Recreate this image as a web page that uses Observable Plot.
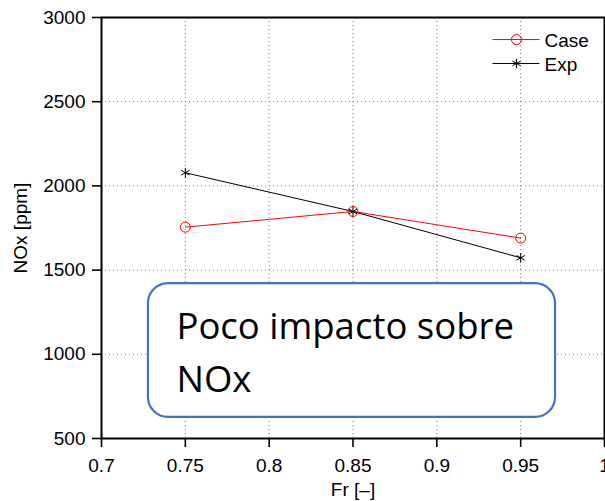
<!DOCTYPE html>
<html><head><meta charset="utf-8">
<script src="https://cdn.jsdelivr.net/npm/d3@7"></script>
<script src="https://cdn.jsdelivr.net/npm/@observablehq/plot@0.6"></script>
<style>body{margin:0;background:#fff}</style>
</head><body><div id="chart"></div>
<script>
const fr = [0.75, 0.85, 0.95];
const caseNOx = [1755, 1848, 1690];
const expNOx = [2078, 1848, 1573];
const seriesNames = ["Case", "Exp"];
const xTicks = [0.7, 0.75, 0.8, 0.85, 0.9, 0.95, 1.0];
const yTicks = [500, 1000, 1500, 2000, 2500, 3000];
const noteLines = ["Poco impacto sobre", "NOx"];

const caseData = fr.map((x, i) => ({x, y: caseNOx[i]}));
const expData = fr.map((x, i) => ({x, y: expNOx[i]}));

// annotation box & legend placement (data space)
const box = [{x1: 0.728, x2: 0.9708, y1: 625, y2: 1420}];
const noteY = [1163, 843];
const note = noteLines.map((t, i) => ({x: 0.7447, y: noteY[i], t}));
const legendY = [2869, 2727];
const legend = seriesNames.map((s, i) => ({
  s, y: legendY[i], x1: 0.9332, x2: 0.9612, xm: 0.9475, xt: 0.9642
}));
const colors = {Case: "#ff0000", Exp: "#000000"};

const fmt = d => String(+d.toFixed(2));

const chart = Plot.plot({
  width: 605, height: 501,
  marginLeft: 101, marginRight: 1, marginTop: 17, marginBottom: 63,
  style: {fontFamily: "'Liberation Sans', Arial, sans-serif", fontSize: "19px", background: "white", overflow: "visible"},
  x: {domain: [0.7, 1.0]},
  y: {domain: [500, 3000]},
  marks: [
    Plot.gridX(xTicks.slice(1, -1), {stroke: "#777", strokeOpacity: 1, strokeDasharray: "1,3", strokeWidth: 1}),
    Plot.gridY(yTicks.slice(1, -1), {stroke: "#777", strokeOpacity: 1, strokeDasharray: "1,3", strokeWidth: 1}),
    Plot.axisX({ticks: xTicks, tickFormat: fmt, tickSize: 9, tickPadding: 11, strokeWidth: 1.6,
      label: "Fr [–]", labelAnchor: "center", labelArrow: "none", labelOffset: 57, fill: "black", fontSize: 19}),
    Plot.axisY({ticks: yTicks, tickSize: 9, tickPadding: 7, strokeWidth: 1.6, tickFormat: d => String(d),
      label: "NOx [ppm]", labelAnchor: "center", labelArrow: "none", labelOffset: 88, fill: "black", fontSize: 19}),
    Plot.rect(box, {x1: "x1", x2: "x2", y1: "y1", y2: "y2", rx: 20, fill: "white", stroke: "#4472C4", strokeWidth: 2.2}),
    Plot.text(note, {x: "x", y: "y", text: "t", textAnchor: "start", lineAnchor: "middle",
      fontSize: 36.5, fontFamily: "'Open Sans', sans-serif", fill: "black"}),
    Plot.line(caseData, {x: "x", y: "y", stroke: colors.Case, strokeWidth: 1}),
    Plot.line(expData, {x: "x", y: "y", stroke: colors.Exp, strokeWidth: 1}),
    Plot.dot(caseData, {x: "x", y: "y", r: 5, stroke: colors.Case, fill: "none", strokeWidth: 1}),
    Plot.dot(expData, {x: "x", y: "y", r: 4.5, symbol: "asterisk", stroke: colors.Exp, strokeWidth: 1}),
    Plot.link(legend, {x1: "x1", x2: "x2", y1: "y", y2: "y", stroke: d => colors[d.s], strokeWidth: 1}),
    Plot.dot(legend.filter(d => d.s === "Case"), {x: "xm", y: "y", r: 5, symbol: "circle",
      stroke: colors.Case, fill: "none", strokeWidth: 1}),
    Plot.dot(legend.filter(d => d.s === "Exp"), {x: "xm", y: "y", r: 4.5, symbol: "asterisk",
      stroke: colors.Exp, fill: "none", strokeWidth: 1}),
    Plot.text(legend, {x: "xt", y: "y", text: "s", textAnchor: "start", dy: 1, fontSize: 19, fill: "black"}),
    Plot.frame({stroke: "black", strokeWidth: 2})
  ]
});
document.getElementById("chart").appendChild(chart);
</script>
</body></html>
